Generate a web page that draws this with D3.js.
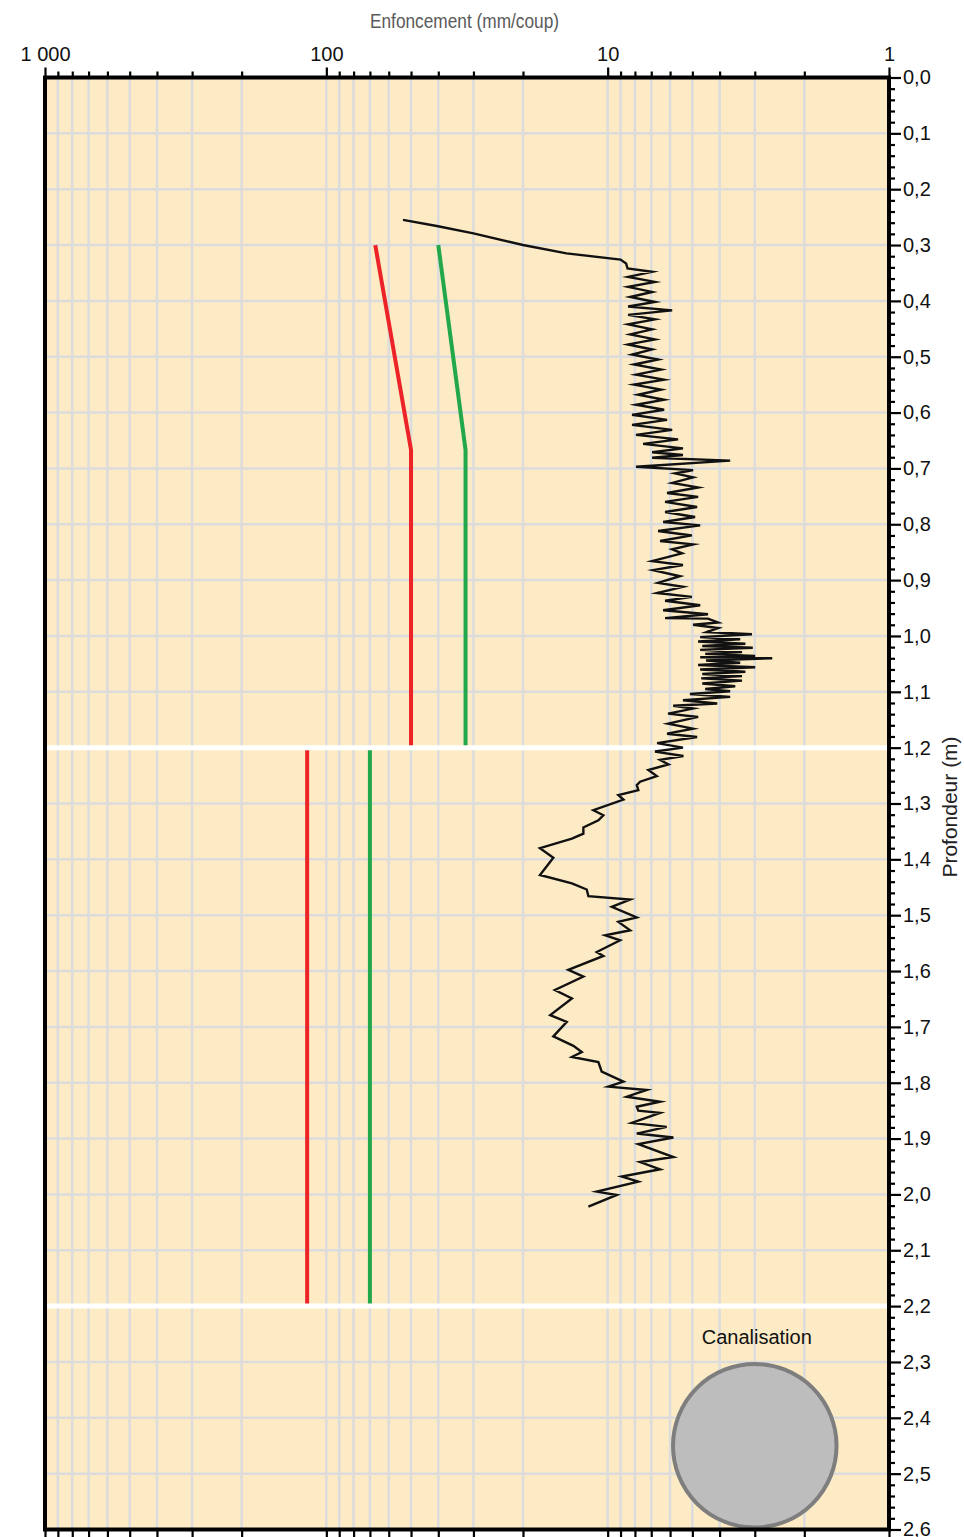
<!DOCTYPE html>
<html lang="fr">
<head>
<meta charset="utf-8">
<script src="https://cdn.jsdelivr.net/npm/d3@7"></script>
<style>
  html, body { margin: 0; padding: 0; background: #ffffff; }
  svg { display: block; }
</style>
</head>
<body>
<svg id="chart" width="964" height="1537"></svg>
<script>
// ---- Données du sondage au pénétromètre ----

// Graduations de l'axe des enfoncements (échelle logarithmique inversée)
const graduationsMajeures = [1000, 100, 10, 1];
const etiquettesMajeures = ["1 000", "100", "10", "1"];
const decades = [100, 10, 1];
const multiples = [2, 3, 4, 5, 6, 7, 8, 9];

// Graduations de profondeur (m)
const profondeursMajeures = [0.0, 0.1, 0.2, 0.3, 0.4, 0.5, 0.6, 0.7, 0.8, 0.9, 1.0, 1.1, 1.2,
  1.3, 1.4, 1.5, 1.6, 1.7, 1.8, 1.9, 2.0, 2.1, 2.2, 2.3, 2.4, 2.5, 2.6];

// Limites de couches
const separations = [1.2, 2.2];

// Seuils de référence [profondeur (m), enfoncement (mm/coup)]
const seuilRouge = [[0.30, 67], [0.667, 50], [1.20, 50]];
const seuilRougeProfond = [[1.20, 117], [2.20, 117]];
const seuilVert = [[0.30, 40], [0.667, 32], [1.20, 32]];
const seuilVertProfond = [[1.20, 70], [2.20, 70]];

// Canalisation : profondeur du haut (m), diamètre (m), abscisse (mm/coup)
const canalisationHaut = 2.30;
const canalisationDiametre = 0.30;
const canalisationAbscisse = 3;

// Mesures [profondeur (m), enfoncement (mm/coup)]
const sondage = [
  [0.255, 53.4], [0.266, 40.5], [0.279, 30.0], [0.300, 20.0], [0.315, 14.0], [0.326, 9.0],
  [0.333, 8.6], [0.342, 8.5],
  [0.348, 6.95], [0.357, 8.46], [0.366, 6.79], [0.375, 8.46], [0.384, 6.95], [0.393, 8.32],
  [0.402, 6.79], [0.410, 8.46], [0.417, 5.90], [0.425, 8.46], [0.433, 6.79], [0.442, 8.46],
  [0.451, 6.95], [0.460, 8.32], [0.469, 6.79], [0.478, 8.46], [0.487, 6.95], [0.496, 8.19],
  [0.505, 6.62], [0.514, 8.06], [0.523, 6.46], [0.532, 7.93], [0.541, 6.30], [0.550, 8.06],
  [0.559, 6.46], [0.568, 7.80], [0.577, 6.30], [0.586, 7.93], [0.595, 6.30], [0.604, 8.19],
  [0.613, 6.15], [0.622, 8.19], [0.631, 5.90], [0.640, 7.93], [0.648, 5.62], [0.656, 7.48],
  [0.664, 5.40], [0.671, 6.95], [0.676, 5.40], [0.681, 6.95], [0.686, 3.67], [0.697, 7.93],
  [0.703, 4.97], [0.709, 5.76], [0.716, 4.97], [0.726, 5.90], [0.734, 4.77], [0.744, 6.15],
  [0.751, 4.77], [0.760, 6.25], [0.769, 4.81], [0.778, 6.25], [0.787, 4.89], [0.796, 6.35],
  [0.802, 4.69], [0.812, 6.62], [0.820, 5.02], [0.830, 6.51], [0.836, 4.97], [0.845, 5.90],
  [0.852, 5.44], [0.866, 6.95], [0.873, 5.40], [0.882, 6.89], [0.893, 5.53], [0.905, 6.62],
  [0.912, 5.40], [0.923, 6.67], [0.930, 5.02], [0.937, 6.25], [0.945, 4.69], [0.954, 6.35],
  [0.961, 4.40], [0.968, 6.25], [0.969, 4.40], [0.976, 4.05], [0.980, 4.97], [0.986, 4.05],
  [0.993, 4.44], [0.997, 3.07],
  [1.002, 4.69], [1.006, 3.38], [1.010, 4.77], [1.014, 3.24], [1.018, 4.61], [1.021, 3.05],
  [1.025, 4.69], [1.029, 3.33], [1.032, 4.50], [1.036, 2.99], [1.038, 4.69], [1.040, 2.60],
  [1.044, 4.47], [1.048, 3.38], [1.052, 4.77], [1.056, 2.99], [1.060, 4.69], [1.064, 3.24],
  [1.068, 4.61], [1.072, 3.33], [1.076, 4.65], [1.080, 3.33], [1.085, 4.61], [1.090, 3.52],
  [1.095, 4.50], [1.099, 3.67], [1.104, 5.10], [1.109, 3.67], [1.115, 5.40], [1.121, 4.08],
  [1.125, 5.85], [1.130, 4.97], [1.139, 6.10], [1.145, 4.77], [1.157, 6.10], [1.166, 4.97],
  [1.175, 6.15], [1.181, 4.81], [1.192, 6.67], [1.200, 5.40], [1.207, 6.79],
  [1.215, 5.38], [1.222, 6.51], [1.230, 6.08], [1.240, 7.17], [1.251, 6.69], [1.261, 7.67],
  [1.267, 7.88], [1.276, 7.78], [1.285, 9.16], [1.293, 8.79], [1.312, 11.24], [1.321, 10.36],
  [1.330, 10.79], [1.343, 12.2], [1.354, 12.2], [1.363, 13.4], [1.380, 17.4], [1.397, 15.6],
  [1.428, 17.4], [1.443, 13.4], [1.454, 11.87], [1.466, 11.71], [1.472, 8.32], [1.485, 9.67],
  [1.504, 7.88], [1.512, 9.16], [1.527, 8.32], [1.536, 10.2], [1.545, 9.03], [1.566, 10.93],
  [1.573, 10.36], [1.598, 13.8], [1.610, 12.2], [1.634, 15.4], [1.649, 13.4], [1.679, 16.0],
  [1.691, 13.98], [1.717, 15.6], [1.734, 13.24], [1.745, 12.36], [1.754, 13.4], [1.763, 10.79],
  [1.780, 10.5], [1.798, 8.79], [1.807, 9.94], [1.813, 7.26], [1.825, 8.55], [1.834, 6.51],
  [1.843, 7.88], [1.850, 7.78], [1.854, 6.51], [1.872, 8.21], [1.879, 6.17], [1.891, 7.88],
  [1.898, 5.84], [1.910, 7.78], [1.933, 5.84], [1.942, 7.67], [1.955, 6.51], [1.968, 8.91],
  [1.977, 7.78], [1.995, 10.93], [2.001, 9.28], [2.022, 11.71]
];

// ---- Mise en page ----
const gauche = 45, droite = 889, haut = 77.5, bas = 1529.5;
const police = "'Liberation Sans', Arial, Helvetica, sans-serif";

const svg = d3.select("#chart");

const x = d3.scaleLog().domain([1000, 1]).range([gauche, droite]);
const y = d3.scaleLinear().domain([0, 2.6]).range([haut, bas]);

const graduationsMineures = [];
decades.forEach(d => multiples.forEach(m => graduationsMineures.push(d * m)));
const lignesVerticales = graduationsMineures.concat([100, 10]);
const profondeursMineures = d3.range(0, 2.6001, 0.02)
  .filter(p => Math.abs(p * 10 - Math.round(p * 10)) > 0.01);

// Fond de la zone de tracé
svg.append("rect")
  .attr("x", gauche).attr("y", haut)
  .attr("width", droite - gauche).attr("height", bas - haut)
  .attr("fill", "#fcebc5");

// Quadrillage
const grille = svg.append("g").attr("stroke", "#dcdcdc").attr("stroke-width", 2.5);
grille.selectAll("line.v").data(lignesVerticales).join("line")
  .attr("class", "v")
  .attr("x1", d => x(d)).attr("x2", d => x(d))
  .attr("y1", haut).attr("y2", bas);
grille.selectAll("line.h").data(profondeursMajeures.filter(p => p > 0 && p < 2.6)).join("line")
  .attr("class", "h")
  .attr("x1", gauche).attr("x2", droite)
  .attr("y1", d => y(d)).attr("y2", d => y(d));

// Seuils
const ligne = d3.line().x(d => x(d[1])).y(d => y(d[0]));
[[seuilRouge, "#ec2327"], [seuilRougeProfond, "#ec2327"],
 [seuilVert, "#22a84a"], [seuilVertProfond, "#22a84a"]].forEach(([donnees, couleur]) => {
  svg.append("path").datum(donnees)
    .attr("d", ligne)
    .attr("fill", "none")
    .attr("stroke", couleur)
    .attr("stroke-width", 4);
});

// Limites de couches
svg.append("g").selectAll("line").data(separations).join("line")
  .attr("x1", gauche).attr("x2", droite)
  .attr("y1", d => y(d)).attr("y2", d => y(d))
  .attr("stroke", "#ffffff").attr("stroke-width", 5);

// Courbe du sondage
svg.append("path").datum(sondage)
  .attr("d", ligne)
  .attr("fill", "none")
  .attr("stroke", "#111111")
  .attr("stroke-width", 2.4)
  .attr("stroke-linejoin", "miter")
  .attr("stroke-miterlimit", 6);

// Canalisation
const centreProf = canalisationHaut + canalisationDiametre / 2;
const rayon = y(canalisationHaut + canalisationDiametre) - y(centreProf);
svg.append("circle")
  .attr("cx", x(canalisationAbscisse))
  .attr("cy", y(centreProf))
  .attr("r", rayon - 2)
  .attr("fill", "#bdbdbd")
  .attr("stroke", "#7e7e7e")
  .attr("stroke-width", 4);
svg.append("text")
  .attr("x", x(canalisationAbscisse) + 2)
  .attr("y", y(canalisationHaut) - 18)
  .attr("text-anchor", "middle")
  .attr("font-family", police)
  .attr("font-size", 20)
  .attr("fill", "#111")
  .text("Canalisation");

// Cadre
svg.append("rect")
  .attr("x", gauche).attr("y", haut)
  .attr("width", droite - gauche).attr("height", bas - haut)
  .attr("fill", "none")
  .attr("stroke", "#000")
  .attr("stroke-width", 4);

function styliser(g, taille) {
  g.select(".domain").remove();
  g.selectAll(".tick line").attr("stroke", "#000").attr("stroke-width", 2.2);
  g.attr("font-family", police).attr("font-size", taille);
  g.selectAll(".tick text").attr("fill", "#111");
}

// Axe du haut (enfoncement)
svg.append("g").attr("transform", `translate(0,${haut})`)
  .call(d3.axisTop(x).tickValues(graduationsMineures).tickSize(6).tickFormat(""))
  .call(g => styliser(g, 20));
svg.append("g").attr("transform", `translate(0,${haut})`)
  .call(d3.axisTop(x).tickValues(graduationsMajeures).tickSize(10).tickPadding(7)
    .tickFormat(d => etiquettesMajeures[graduationsMajeures.indexOf(d)]))
  .call(g => styliser(g, 20));

// Axe du bas
svg.append("g").attr("transform", `translate(0,${bas})`)
  .call(d3.axisBottom(x).tickValues(graduationsMineures.concat(graduationsMajeures)).tickSize(8).tickFormat(""))
  .call(g => styliser(g, 20));

// Axe de droite (profondeur)
svg.append("g").attr("transform", `translate(${droite},0)`)
  .call(d3.axisRight(y).tickValues(profondeursMineures).tickSize(6).tickFormat(""))
  .call(g => styliser(g, 20));
svg.append("g").attr("transform", `translate(${droite},0)`)
  .call(d3.axisRight(y).tickValues(profondeursMajeures).tickSize(12).tickPadding(2)
    .tickFormat(d => d3.format(".1f")(d).replace(".", ",")))
  .call(g => styliser(g, 20));

// Titres des axes
svg.append("text")
  .attr("x", 464.5).attr("y", 28)
  .attr("text-anchor", "middle")
  .attr("font-family", "'Liberation Sans Narrow', 'Arial Narrow', " + police)
  .attr("font-size", 21)
  .attr("textLength", 189)
  .attr("lengthAdjust", "spacingAndGlyphs")
  .attr("fill", "#5a5a5a")
  .text("Enfoncement (mm/coup)");

svg.append("text")
  .attr("transform", "translate(957,807) rotate(-90)")
  .attr("text-anchor", "middle")
  .attr("font-family", police)
  .attr("font-size", 21)
  .attr("fill", "#222")
  .text("Profondeur (m)");
</script>
</body>
</html>
